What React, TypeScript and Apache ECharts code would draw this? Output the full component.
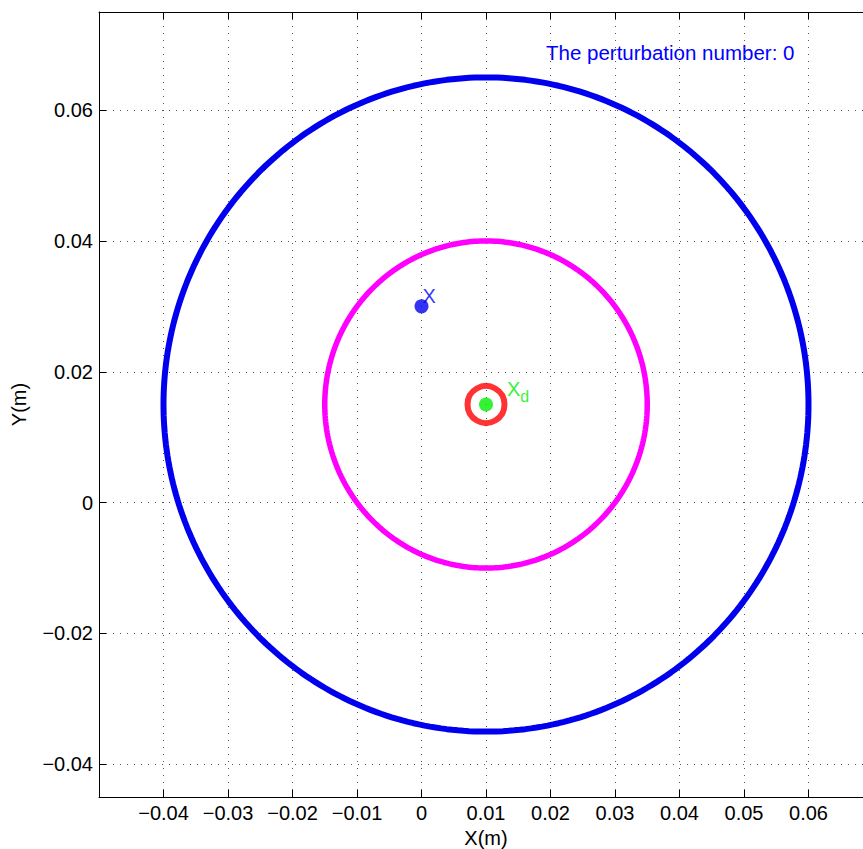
import React, { useEffect, useRef } from "react";
import * as echarts from "echarts";

// Values
const circleCenter = [0.01, 0.015];
const outerRadius = 0.05;
const innerRadius = 0.025;
const pointX = [0, 0.03];
const pointXd = [0.01, 0.015];
const xRange = [-0.05, 0.07];
const yRange = [-0.045, 0.075];
const yTicks = [-0.04, -0.02, 0, 0.02, 0.04, 0.06];
const titleText = "The perturbation number: 0";
const xName = "X(m)";
const yName = "Y(m)";

const FONT = "'Liberation Sans', Arial, Helvetica, sans-serif";

function circlePoints(c: number[], r: number, n: number) {
  const pts: number[][] = [];
  for (let i = 0; i <= n; i++) {
    const t = (i / n) * Math.PI * 2;
    pts.push([c[0] + r * Math.cos(t), c[1] + r * Math.sin(t)]);
  }
  return pts;
}

function fmt(v: number) {
  if (Math.abs(v) < 1e-9) return "0";
  const s = Math.abs(v).toFixed(2);
  return v < 0 ? "\u2212" + s : s;
}

const gridLine = { color: "#555", width: 1, type: [1, 6] as any };

export default function App() {
  const ref = useRef<HTMLDivElement>(null);
  useEffect(() => {
    if (!ref.current) return;
    const chart = echarts.init(ref.current, undefined, { renderer: "svg" });
    chart.setOption({
      animation: false,
      backgroundColor: "#fff",
      textStyle: { fontFamily: FONT },
      grid: { left: 99, top: 12, width: 774, height: 785, outerBoundsMode: "none", containLabel: false },
      graphic: [
        {
          type: "text",
          left: 546,
          top: 42,
          style: { text: titleText, fill: "#0000ff", font: `20.5px ${FONT}` },
        },
      ],
      xAxis: [
        {
          type: "value",
          min: xRange[0],
          max: xRange[1],
          interval: 0.01,
          name: xName,
          nameLocation: "middle",
          nameGap: 29,
          nameTextStyle: { fontSize: 20, color: "#000", fontFamily: FONT },
          axisLine: { show: true, onZero: false, lineStyle: { color: "#000", width: 1 } },
          axisTick: { show: true, inside: true, length: 7, lineStyle: { color: "#000" } },
          axisLabel: {
            fontSize: 20,
            color: "#000",
            margin: 6,
            fontFamily: FONT,
            formatter: (v: number) => (v < -0.0495 || v > 0.0695 ? "" : fmt(v)),
          },
          splitLine: { show: true, lineStyle: gridLine },
        },
        {
          type: "value",
          position: "top",
          min: xRange[0],
          max: xRange[1],
          interval: 0.01,
          axisLine: { show: true, onZero: false, lineStyle: { color: "#000", width: 1 } },
          axisTick: { show: true, inside: true, length: 7, lineStyle: { color: "#000" } },
          axisLabel: { show: false },
          splitLine: { show: false },
        },
      ],
      yAxis: [
        {
          type: "value",
          min: yRange[0],
          max: yRange[1],
          name: yName,
          nameLocation: "middle",
          nameGap: 70,
          nameRotate: 90,
          nameTextStyle: { fontSize: 20, color: "#000", fontFamily: FONT },
          axisLine: { show: true, onZero: false, lineStyle: { color: "#000", width: 1 } },
          axisTick: {
            show: true,
            inside: true,
            length: 7,
            lineStyle: { color: "#000" },
            customValues: yTicks,
          },
          axisLabel: {
            fontSize: 20,
            color: "#000",
            margin: 6,
            fontFamily: FONT,
            customValues: yTicks,
            formatter: (v: number) => fmt(v),
          },
          splitLine: { show: true, lineStyle: gridLine },
        },
      ],
      series: [
        {
          type: "line",
          data: circlePoints(circleCenter, outerRadius, 360),
          showSymbol: false,
          symbol: "none",
          lineStyle: { color: "#0000ee", width: 6 },
          z: 3,
        },
        {
          type: "line",
          data: circlePoints(circleCenter, innerRadius, 360),
          showSymbol: false,
          symbol: "none",
          lineStyle: { color: "#ff00ff", width: 5.5 },
          z: 3,
        },
        {
          type: "scatter",
          data: [pointXd],
          symbol: "circle",
          symbolSize: 37,
          itemStyle: { color: "rgba(0,0,0,0)", borderColor: "#ff0000", borderWidth: 6 },
          z: 4,
        },
        {
          type: "scatter",
          data: [pointXd],
          symbol: "circle",
          symbolSize: 14,
          itemStyle: { color: "#00ee00" },
          label: {
            show: true,
            position: "right",
            distance: 14,
            offset: [0, -13],
            formatter: "{a|X}{b|d}",
            rich: {
              a: { fontSize: 20, color: "#00ee00", fontFamily: FONT, lineHeight: 26, verticalAlign: "top" },
              b: { fontSize: 16, color: "#00ee00", fontFamily: FONT, lineHeight: 26, verticalAlign: "bottom" },
            },
          },
          z: 5,
        },
        {
          type: "scatter",
          data: [pointX],
          symbol: "circle",
          symbolSize: 14,
          itemStyle: { color: "#0000ee" },
          label: {
            show: true,
            position: "right",
            distance: 0,
            offset: [-6, -10],
            formatter: "X",
            fontSize: 20,
            color: "#0000ee",
            fontFamily: FONT,
          },
          z: 5,
        },
      ],
    });
    return () => chart.dispose();
  }, []);
  return (
    <div style={{ position: "absolute", left: 0, top: 0, width: 863, height: 849, overflow: "hidden", background: "#fff" }}>
      <div ref={ref} style={{ width: 900, height: 849 }} />
    </div>
  );
}
